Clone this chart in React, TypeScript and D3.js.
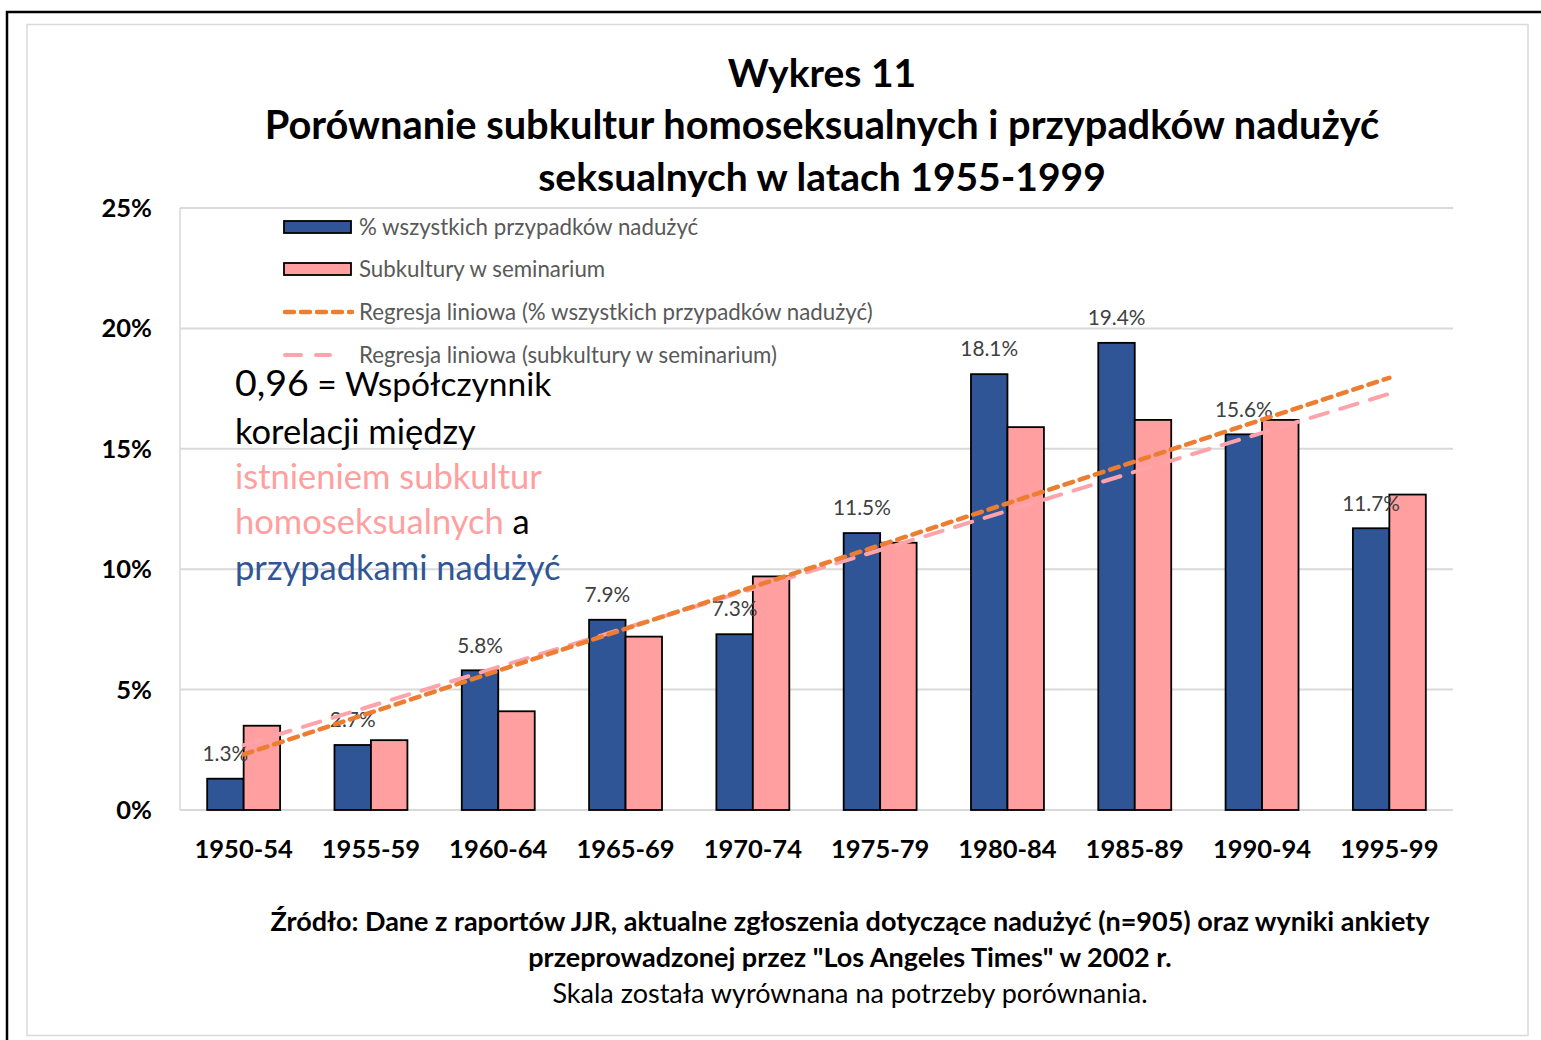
import { useEffect, useRef } from 'react';
import * as d3 from 'd3';

const categories = ['1950-54', '1955-59', '1960-64', '1965-69', '1970-74', '1975-79', '1980-84', '1985-89', '1990-94', '1995-99'];
const abuseShare = [1.3, 2.7, 5.8, 7.9, 7.3, 11.5, 18.1, 19.4, 15.6, 11.7];
const subcultures = [3.5, 2.9, 4.1, 7.2, 9.7, 11.1, 15.9, 16.2, 16.2, 13.1];
const yTicks = [0, 5, 10, 15, 20, 25];
const legendLabels = [
  '% wszystkich przypadków nadużyć',
  'Subkultury w seminarium',
  'Regresja liniowa (% wszystkich przypadków nadużyć)',
  'Regresja liniowa (subkultury w seminarium)',
];
const titleLines = ['Wykres 11', 'Porównanie subkultur homoseksualnych i przypadków nadużyć', 'seksualnych w latach 1955-1999'];
const sourceLines = [
  'Źródło: Dane z raportów JJR, aktualne zgłoszenia dotyczące nadużyć (n=905) oraz wyniki ankiety',
  'przeprowadzonej przez "Los Angeles Times" w 2002 r.',
];
const noteLine = 'Skala została wyrównana na potrzeby porównania.';

const BLUE = '#2F5597';
const PINK = '#FF9F9F';
const ORANGE = '#ED7D31';
const PINK_TREND = '#FFA3AA';
const FONT = 'Lato, "Open Sans", sans-serif';

function regression(vals: number[]) {
  const xs = vals.map((_, i) => i + 1);
  const mx = d3.mean(xs)!;
  const my = d3.mean(vals)!;
  const sxy = d3.sum(xs, (x, i) => (x - mx) * (vals[i] - my));
  const sxx = d3.sum(xs, (x) => (x - mx) ** 2);
  const slope = sxy / sxx;
  return (x: number) => my + slope * (x - mx);
}

export default function App() {
  const svgRef = useRef<SVGSVGElement>(null);

  useEffect(() => {
    if (!svgRef.current) return;
    const svg = d3.select(svgRef.current);
    svg.selectAll('*').remove();

    const width = 1541;
    const height = 1040;
    const left = 180, right = 1453, top = 208, bottom = 810;

    svg.append('rect').attr('width', width).attr('height', height).attr('fill', '#fff');

    // frames
    svg.append('rect')
      .attr('x', 7).attr('y', 12).attr('width', 1560).attr('height', 1060)
      .attr('fill', 'none').attr('stroke', '#000').attr('stroke-width', 2.5);
    svg.append('rect')
      .attr('x', 27).attr('y', 24.5).attr('width', 1501).attr('height', 1011)
      .attr('fill', 'none').attr('stroke', '#D9D9D9').attr('stroke-width', 1.5);

    const x = d3.scaleBand<string>().domain(categories).range([left, right])
      .paddingInner(0.427).paddingOuter(0.2135);
    const x1 = d3.scaleBand<string>().domain(['a', 'b']).range([0, x.bandwidth()]);
    const y = d3.scaleLinear().domain([0, 25]).range([bottom, top]);

    // gridlines
    svg.append('g').selectAll('line').data(yTicks).join('line')
      .attr('x1', left).attr('x2', right)
      .attr('y1', (d) => y(d)).attr('y2', (d) => y(d))
      .attr('stroke', '#D9D9D9').attr('stroke-width', 2);
    svg.append('line')
      .attr('x1', left).attr('x2', left).attr('y1', top).attr('y2', bottom)
      .attr('stroke', '#D9D9D9').attr('stroke-width', 1.5);

    // y tick labels
    svg.append('g').selectAll('text').data(yTicks).join('text')
      .attr('x', 152).attr('y', (d) => y(d)).attr('dy', '0.35em')
      .attr('text-anchor', 'end').attr('font-family', FONT).attr('font-weight', 700)
      .attr('font-size', 25.5).attr('fill', '#000')
      .text((d) => `${d}%`);

    // x tick labels
    svg.append('g').selectAll('text').data(categories).join('text')
      .attr('x', (d) => x(d)! + x.bandwidth() / 2).attr('y', 849).attr('dy', '0.35em')
      .attr('text-anchor', 'middle').attr('font-family', FONT).attr('font-weight', 700)
      .attr('font-size', 25.5).attr('fill', '#000')
      .text((d) => d);

    // bars
    const bars = svg.append('g');
    bars.selectAll('rect.blue').data(abuseShare).join('rect')
      .attr('class', 'blue')
      .attr('x', (_, i) => x(categories[i])! + x1('a')!)
      .attr('y', (d) => y(d)).attr('width', x1.bandwidth())
      .attr('height', (d) => bottom - y(d))
      .attr('fill', BLUE).attr('stroke', '#000').attr('stroke-width', 1.8);
    bars.selectAll('rect.pink').data(subcultures).join('rect')
      .attr('class', 'pink')
      .attr('x', (_, i) => x(categories[i])! + x1('b')!)
      .attr('y', (d) => y(d)).attr('width', x1.bandwidth())
      .attr('height', (d) => bottom - y(d))
      .attr('fill', PINK).attr('stroke', '#000').attr('stroke-width', 1.8);

    // data labels for blue bars
    svg.append('g').selectAll('text').data(abuseShare).join('text')
      .attr('x', (_, i) => x(categories[i])! + x1('a')! + x1.bandwidth() / 2)
      .attr('y', (d) => y(d) - 25).attr('dy', '0.35em')
      .attr('text-anchor', 'middle').attr('font-family', FONT)
      .attr('font-size', 20.8).attr('fill', '#404040')
      .text((d) => `${d.toFixed(1)}%`);

    // trend lines
    const cx = (i: number) => x(categories[i])! + x.bandwidth() / 2;
    const trendPink = regression(subcultures);
    const trendBlue = regression(abuseShare);
    const n = categories.length;
    const line = d3.line<number>().x((_, j) => cx(j === 0 ? 0 : n - 1)).y((d) => d);
    svg.append('path')
      .attr('d', line([y(trendPink(1)), y(trendPink(n))]))
      .attr('fill', 'none').attr('stroke', PINK_TREND).attr('stroke-width', 4)
      .attr('stroke-dasharray', '18 13').attr('stroke-linecap', 'round');
    svg.append('path')
      .attr('d', line([y(trendBlue(1)), y(trendBlue(n))]))
      .attr('fill', 'none').attr('stroke', ORANGE).attr('stroke-width', 4.5)
      .attr('stroke-dasharray', '9 7').attr('stroke-linecap', 'round');

    // legend
    const legendY = [227, 269, 312, 355];
    const lg = svg.append('g');
    [BLUE, PINK].forEach((c, i) => {
      lg.append('rect').attr('x', 284).attr('y', legendY[i] - 6).attr('width', 67).attr('height', 12)
        .attr('fill', c).attr('stroke', '#000').attr('stroke-width', 1.8);
    });
    lg.append('line').attr('x1', 285).attr('x2', 352).attr('y1', legendY[2]).attr('y2', legendY[2])
      .attr('stroke', ORANGE).attr('stroke-width', 4.5).attr('stroke-dasharray', '9 7').attr('stroke-linecap', 'round');
    lg.append('line').attr('x1', 285).attr('x2', 330).attr('y1', legendY[3]).attr('y2', legendY[3])
      .attr('stroke', PINK_TREND).attr('stroke-width', 4).attr('stroke-dasharray', '16 15').attr('stroke-linecap', 'round');
    lg.selectAll('text').data(legendLabels).join('text')
      .attr('x', 359).attr('y', (_, i) => legendY[i]).attr('dy', '0.35em')
      .attr('font-family', FONT).attr('font-size', 22.3).attr('fill', '#595959')
      .text((d) => d);

    // annotation
    const ann = svg.append('text').attr('font-family', FONT).attr('font-size', 34.5).attr('fill', '#000');
    const l1 = ann.append('tspan').attr('x', 235).attr('y', 396);
    l1.append('tspan').attr('font-size', 37.5).text('0,96');
    l1.append('tspan').attr('font-size', 33.5).text(' = Współczynnik');
    ann.append('tspan').attr('x', 235).attr('y', 444).text('korelacji między');
    ann.append('tspan').attr('x', 235).attr('y', 489).attr('fill', PINK).text('istnieniem subkultur');
    const l4 = ann.append('tspan').attr('x', 235).attr('y', 534);
    l4.append('tspan').attr('fill', PINK).text('homoseksualnych');
    l4.append('tspan').text(' a');
    ann.append('tspan').attr('x', 235).attr('y', 580).attr('fill', BLUE).text('przypadkami nadużyć');

    // title
    svg.append('g').selectAll('text').data(titleLines).join('text')
      .attr('x', 822).attr('y', (_, i) => 73 + i * 52).attr('dy', '0.35em')
      .attr('text-anchor', 'middle').attr('font-family', FONT).attr('font-weight', 700)
      .attr('font-size', (_, i) => (i === 1 ? 39.8 : 39)).attr('fill', '#000')
      .text((d) => d);

    // source
    svg.append('g').selectAll('text').data(sourceLines).join('text')
      .attr('x', 850).attr('y', (_, i) => 922 + i * 36).attr('dy', '0.35em')
      .attr('text-anchor', 'middle').attr('font-family', FONT).attr('font-weight', 700)
      .attr('font-size', 27).attr('fill', '#000')
      .text((d) => d);
    svg.append('text')
      .attr('x', 850).attr('y', 994).attr('dy', '0.35em')
      .attr('text-anchor', 'middle').attr('font-family', FONT)
      .attr('font-size', 27).attr('fill', '#000')
      .text(noteLine);
  }, []);

  return (
    <div style={{ position: 'absolute', left: 0, top: 0 }}>
      <svg ref={svgRef} width={1541} height={1040} style={{ display: 'block' }} />
    </div>
  );
}
